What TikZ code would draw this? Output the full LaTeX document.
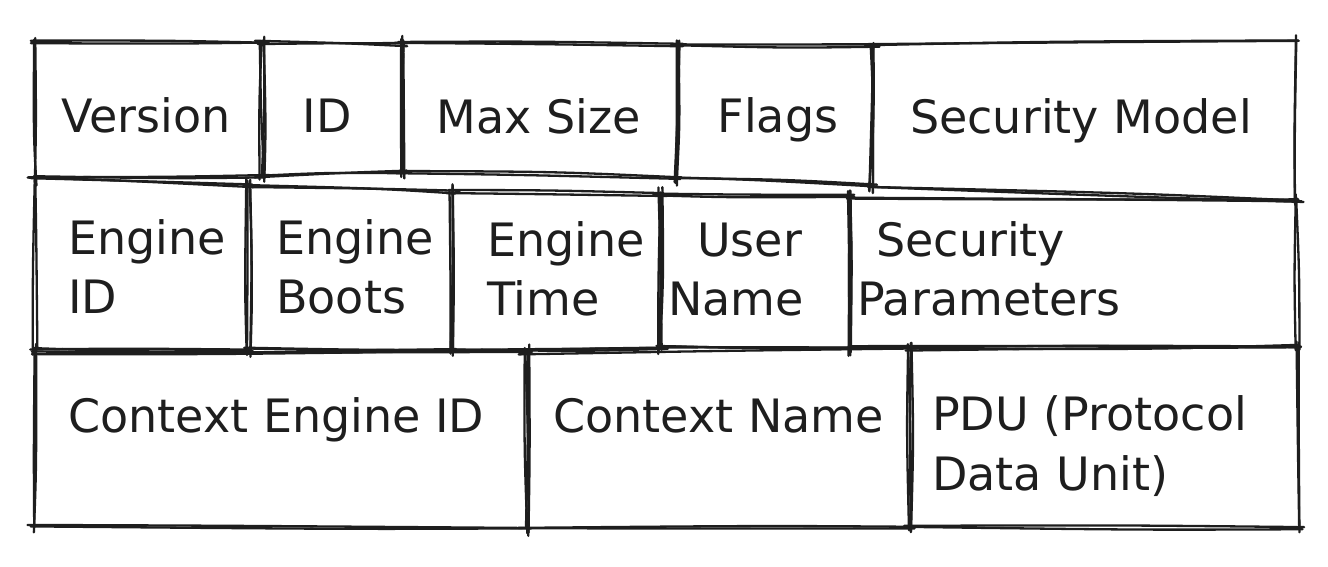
\documentclass[tikz,border=0pt]{standalone}
\usepackage{fontspec}
\setmainfont{DejaVu Sans}
\definecolor{ink}{HTML}{1E1E1E}
% one rough, slightly bowed pen stroke from (#1,#2) to (#3,#4),
% running a little past both ends like a quick pen line
\newcommand\skline[4]{%
  \pgfmathsetmacro\sklen{veclen(#3-#1,#4-#2)}%
  \pgfmathsetmacro\skux{(#3-#1)/\sklen}%
  \pgfmathsetmacro\skuy{(#4-#2)/\sklen}%
  \pgfmathsetmacro\skea{4+3*rand}%
  \pgfmathsetmacro\skeb{4+3*rand}%
  \pgfmathsetmacro\skax{#1-\skea*\skux+2.5*rand}%
  \pgfmathsetmacro\skay{#2-\skea*\skuy+2.5*rand}%
  \pgfmathsetmacro\skbx{#3+\skeb*\skux+2.5*rand}%
  \pgfmathsetmacro\skby{#4+\skeb*\skuy+2.5*rand}%
  \pgfmathsetmacro\skcx{\skax+(\skbx-\skax)*(0.5+0.15*rand)+2.5*rand}%
  \pgfmathsetmacro\skcy{\skay+(\skby-\skay)*(0.5+0.15*rand)+2.5*rand}%
  \draw[pen] (\skax,\skay) .. controls (\skcx,\skcy) .. (\skbx,\skby);%
}
% a hand-drawn cell: corners top-left, top-right, bottom-right, bottom-left
\newcommand\skbox[8]{%
  \skline{#1}{#2}{#3}{#4}\skline{#1}{#2}{#3}{#4}%
  \skline{#3}{#4}{#5}{#6}\skline{#3}{#4}{#5}{#6}%
  \skline{#5}{#6}{#7}{#8}\skline{#5}{#6}{#7}{#8}%
  \skline{#7}{#8}{#1}{#2}\skline{#7}{#8}{#1}{#2}%
}
\begin{document}
\begin{tikzpicture}[x=1pt,y=-1pt,
  pen/.style={draw=ink,line width=2.3pt,line cap=round,line join=round},
  lbl/.style={inner sep=0pt,text=ink,font=\fontsize{46}{57}\selectfont},
  lw/.style={lbl,anchor=base west},
  lc/.style={lbl,anchor=base}]
\useasboundingbox[fill=white] (0,0) rectangle (1328,567);
\pgfmathsetseed{4242}
% --- row 1
\skbox{35}{43}{262}{43}{262}{176}{35}{178}
\skbox{262}{43}{403}{44}{403}{173}{262}{175}
\skbox{403}{44}{677}{45}{677}{178}{403}{173}
\skbox{677}{45}{871}{46}{871}{185}{677}{178}
\skbox{871}{46}{1297}{40}{1297}{200}{871}{185}
% --- row 2
\skbox{35}{180}{248}{186}{248}{350}{35}{350}
\skbox{248}{186}{452}{192}{452}{350}{248}{350}
\skbox{452}{192}{660}{195}{660}{348}{452}{350}
\skbox{660}{195}{850}{197}{850}{347}{660}{348}
\skbox{850}{197}{1297}{200}{1297}{345}{850}{347}
% --- row 3
\skbox{35}{352}{527}{352}{527}{527}{35}{527}
\skbox{527}{352}{910}{350}{910}{527}{527}{527}
\skbox{910}{350}{1297}{345}{1300}{527}{910}{527}

% --- labels, row 1
\node[lc] (version) at (146,133) {Version};
\node[lc] (id)      at (327,133) {ID};
\node[lc] (maxsize) at (539,134) {Max Size};
\node[lc] (flags)   at (778,133) {Flags};
\node[lc] (secmod)  at (1081,134) {Security Model};
% --- labels, row 2
\node[lw] (engidA)   at (68,254)  {Engine};
\node[lw] (engidB)   at (68,313)  {ID};
\node[lw] (bootsA)   at (276,254) {Engine};
\node[lw] (bootsB)   at (276,313) {Boots};
\node[lw] (timeA)    at (487,256) {Engine};
\node[lw] (timeB)    at (487,315) {Time};
\node[lw] (userA)    at (697,256) {User};
\node[lw] (userB)    at (668,315) {Name};
\node[lw] (secparA)  at (876,256) {Security};
\node[lw] (secparB)  at (857,315) {Parameters};
% --- labels, row 3
\node[lw] (ctxeng)   at (68,432)  {Context Engine ID};
\node[lw] (ctxname)  at (553,432) {Context Name};
\node[lw] (pduA)     at (932,430) {PDU (Protocol};
\node[lw] (pduB)     at (932,490) {Data Unit)};
\end{tikzpicture}
\end{document}
